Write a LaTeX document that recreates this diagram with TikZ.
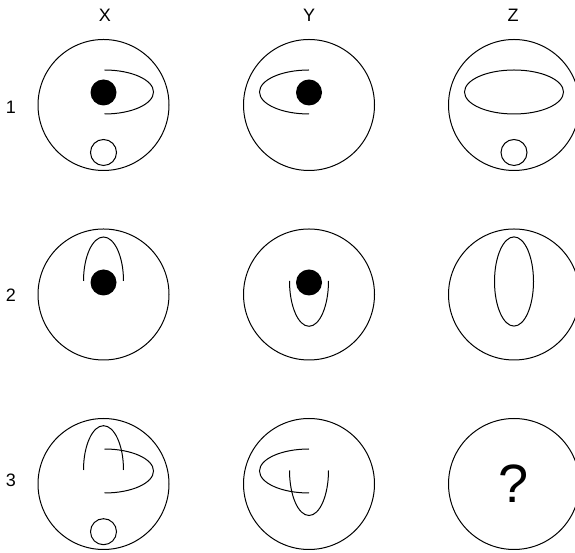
\documentclass[tikz,border=0pt]{standalone}
\usepackage{fontspec}
\setmainfont{Liberation Sans}
\begin{document}
\begin{tikzpicture}[x=1pt,y=1pt,line width=1pt,
  panel/.style={draw,circle,minimum size=131pt,inner sep=0pt},
  lbl/.style={font=\fontsize{18}{18}\selectfont,inner sep=0pt},
  blackdot/.style={circle,fill=black,minimum size=26pt,inner sep=0pt},
  whitedot/.style={circle,draw,minimum size=26pt,inner sep=0pt},
  curve/.style={draw,line width=1pt}]
\useasboundingbox (0,0) rectangle (575,553);
% column labels
\node[lbl] (lx) at (105,538) {X};
\node[lbl] (ly) at (309,538) {Y};
\node[lbl] (lz) at (513,538) {Z};
% row labels
\node[lbl] (l1) at (11,446) {1};
\node[lbl] (l2) at (11,258) {2};
\node[lbl] (l3) at (11,73) {3};
% panels
\node[panel] (p11) at (103.5,448) {};
\node[panel] (p12) at (309,448) {};
\node[panel] (p13) at (514,448) {};
\node[panel] (p21) at (103.5,258.5) {};
\node[panel] (p22) at (309,258.5) {};
\node[panel] (p23) at (514,258.5) {};
\node[panel] (p31) at (103.5,69) {};
\node[panel] (p32) at (309,69) {};
\node[panel] (p33) at (514,69) {};
% row 1
\node[blackdot] (d11) at ([yshift=12.5]p11.center) {};
\draw[curve] ([shift={(1,35)}]p11.center) arc[start angle=90,end angle=-90,x radius=49,y radius=22];
\node[whitedot] (w11) at ([yshift=-47.5]p11.center) {};
\node[blackdot] (d12) at ([yshift=12.5]p12.center) {};
\draw[curve] ([shift={(0,35)}]p12.center) arc[start angle=90,end angle=270,x radius=49.5,y radius=22];
\draw[curve] ([yshift=13]p13.center) ellipse[x radius=49.5,y radius=22];
\node[whitedot] (w13) at ([yshift=-47.5]p13.center) {};
% row 2
\node[blackdot] (d21) at ([yshift=12]p21.center) {};
\draw[curve] ([shift={(-20,13.5)}]p21.center) arc[start angle=180,end angle=0,x radius=20,y radius=44];
\node[blackdot] (d22) at ([yshift=12]p22.center) {};
\draw[curve] ([shift={(-19.5,13.5)}]p22.center) arc[start angle=180,end angle=360,x radius=19.5,y radius=45.3];
\draw[curve] ([yshift=13]p23.center) ellipse[x radius=19.5,y radius=44.6];
% row 3
\draw[curve] ([shift={(-20,14)}]p31.center) arc[start angle=180,end angle=0,x radius=20,y radius=44.3];
\draw[curve] ([shift={(1,35)}]p31.center) arc[start angle=90,end angle=-90,x radius=49,y radius=22];
\node[whitedot] (w31) at ([yshift=-47.7]p31.center) {};
\draw[curve] ([shift={(0,35)}]p32.center) arc[start angle=90,end angle=270,x radius=49.5,y radius=22];
\draw[curve] ([shift={(-19.5,13.5)}]p32.center) arc[start angle=180,end angle=360,x radius=19.5,y radius=45];
\node[font=\fontsize{54}{54}\selectfont,inner sep=0pt] (q) at (513.2,69.2) {?};
\end{tikzpicture}
\end{document}
